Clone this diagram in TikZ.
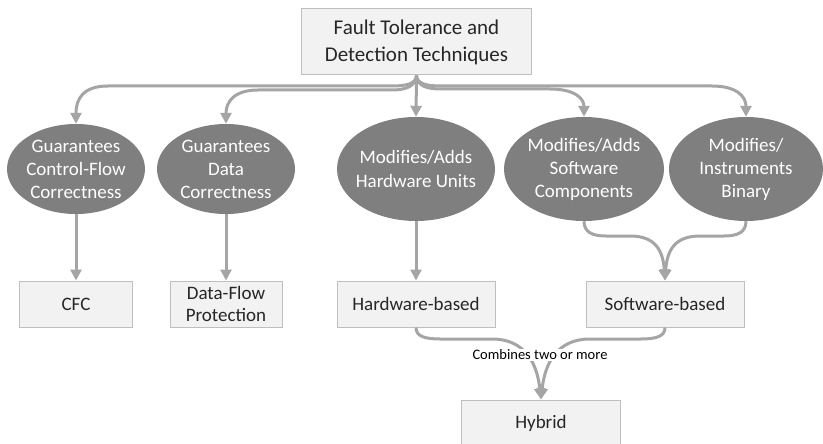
\documentclass[tikz,border=0pt]{standalone}
\usepackage{fontspec}
\setmainfont{Carlito}
\usetikzlibrary{arrows.meta,shapes.geometric}
\definecolor{boxfill}{HTML}{F2F2F2}
\definecolor{boxline}{HTML}{BFBFBF}
\definecolor{ellfill}{HTML}{7F7F7F}
\definecolor{conncol}{HTML}{A5A5A5}
\definecolor{txt}{HTML}{262626}
\begin{document}
\begin{tikzpicture}[x=1pt,y=-1pt,
  rbox/.style={draw=boxline, line width=1pt, fill=boxfill, text=txt, align=center, inner sep=0pt, font=\fontsize{19}{22}\selectfont},
  oval/.style={ellipse, fill=ellfill, inner sep=0pt},
  ovaltext/.style={text=white, align=center, inner sep=0pt, font=\fontsize{19}{23}\selectfont},
  conn/.style={draw=conncol, line width=3pt, -{Triangle[length=11pt,width=11pt]}},
]
\clip (0,0) rectangle (823,444);
\fill[white] (0,0) rectangle (823,444);

% top
\node[rbox, minimum width=230, minimum height=66, font=\fontsize{21}{27}\selectfont] (top) at (416.5,42) {Fault Tolerance and\\Detection Techniques};

% ellipses
\node[oval, minimum width=138, minimum height=90] (e1) at (76,169) {};
\node[ovaltext] (e1t) at (e1.center) {Guarantees\\Control-Flow\\Correctness};
\node[oval, minimum width=138, minimum height=90] (e2) at (226,169) {};
\node[ovaltext] (e2t) at (e2.center) {Guarantees\\Data\\Correctness};
\node[oval, minimum width=158, minimum height=104] (e3) at (416,169) {};
\node[ovaltext, font=\fontsize{19}{24}\selectfont] (e3t) at (e3.center) {Modifies/Adds\\Hardware Units};
\node[oval, minimum width=160, minimum height=104] (e4) at (584,169) {};
\node[ovaltext] (e4t) at (e4.center) {Modifies/Adds\\Software\\Components};
\node[oval, minimum width=154, minimum height=104] (e5) at (746,169) {};
\node[ovaltext] (e5t) at (e5.center) {Modifies/\\Instruments\\Binary};

% boxes
\node[rbox, minimum width=113, minimum height=46] (b1) at (76,304) {CFC};
\node[rbox, minimum width=112, minimum height=46] (b2) at (226,304) {Data-Flow\\Protection};
\node[rbox, minimum width=158, minimum height=46] (b3) at (416,304) {Hardware-based};
\node[rbox, minimum width=158, minimum height=46] (b4) at (665,304) {Software-based};
\node[rbox, minimum width=159, minimum height=46] (hy) at (541,423) {Hybrid};

% top fan
\draw[conn] (top.south) .. controls (416,84) and (406,86) .. (392,86) -- (108,86) .. controls (84,86) and (76,98) .. (e1.north);
\draw[conn] (top.south) .. controls (416,86) and (406,90) .. (392,90) -- (258,90) .. controls (234,90) and (226,102) .. (e2.north);
\draw[conn] (top.south) -- (e3.north);
\draw[conn] (top.south) .. controls (417,86) and (427,89) .. (441,89) -- (550,89) .. controls (574,89) and (584,98) .. (e4.north);
\draw[conn] (top.south) .. controls (417,84) and (427,86) .. (441,86) -- (712,86) .. controls (736,86) and (746,96) .. (e5.north);

% down
\draw[conn] (e1.south) -- (b1.north);
\draw[conn] (e2.south) -- (b2.north);
\draw[conn] (e3.south) -- (b3.north);
\draw[conn] (e4.south) .. controls (584,232) and (592,236) .. (606,236) -- (630,236) .. controls (655,236) and (663,250) .. (b4.north);
\draw[conn] (e5.south) .. controls (746,232) and (738,236) .. (724,236) -- (700,236) .. controls (675,236) and (667,250) .. (b4.north);

% hybrid
\draw[conn] (b3.south) .. controls (416,336) and (424,339) .. (440,339) -- (492,339) .. controls (524,339) and (537,362) .. (hy.north);
\draw[conn] (b4.south) .. controls (665,336) and (657,339) .. (641,339) -- (590,339) .. controls (558,339) and (545,362) .. (hy.north);
\node[fill=white, inner sep=1pt, text=black, font=\fontsize{14.5}{16}\selectfont] (lab) at (540,355) {Combines two or more};
\end{tikzpicture}
\end{document}
